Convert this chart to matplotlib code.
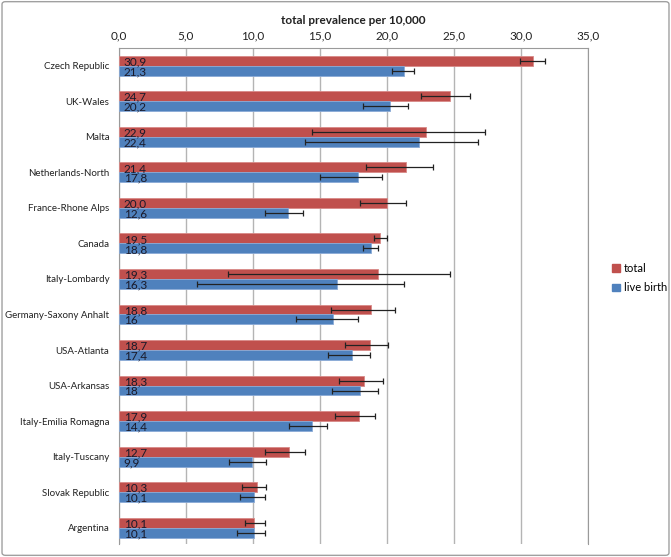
import numpy as np
import matplotlib
matplotlib.use("Agg")
import matplotlib.pyplot as plt
import matplotlib.patches as mpatches
from matplotlib.ticker import FuncFormatter

plt.rcParams["font.family"] = ["Lato", "DejaVu Sans"]

categories = ["Czech Republic", "UK-Wales", "Malta", "Netherlands-North",
              "France-Rhone Alps", "Canada", "Italy-Lombardy",
              "Germany-Saxony Anhalt", "USA-Atlanta", "USA-Arkansas",
              "Italy-Emilia Romagna", "Italy-Tuscany", "Slovak Republic",
              "Argentina"]
total = [30.9, 24.7, 22.9, 21.4, 20.0, 19.5, 19.3, 18.8, 18.7, 18.3, 17.9, 12.7, 10.3, 10.1]
live = [21.3, 20.2, 22.4, 17.8, 12.6, 18.8, 16.3, 16.0, 17.4, 18.0, 14.4, 9.9, 10.1, 10.1]
total_labels = ["30,9", "24,7", "22,9", "21,4", "20,0", "19,5", "19,3", "18,8",
                "18,7", "18,3", "17,9", "12,7", "10,3", "10,1"]
live_labels = ["21,3", "20,2", "22,4", "17,8", "12,6", "18,8", "16,3", "16",
               "17,4", "18", "14,4", "9,9", "10,1", "10,1"]
# 95% confidence limits
total_lo = [29.9, 22.5, 14.4, 18.4, 18.0, 19.0, 8.1, 15.8, 16.9, 16.4, 16.1, 10.9, 9.2, 9.4]
total_hi = [31.8, 26.2, 27.3, 23.4, 21.4, 20.0, 24.7, 20.6, 20.1, 19.7, 19.1, 13.9, 11.0, 10.9]
live_lo = [20.4, 18.2, 13.9, 15.0, 10.9, 18.2, 5.8, 13.2, 15.6, 15.9, 12.7, 8.2, 9.0, 8.8]
live_hi = [22.0, 21.6, 26.8, 19.6, 13.7, 19.3, 21.3, 17.8, 18.7, 19.3, 15.5, 11.0, 10.9, 10.9]
x_ticks = [0, 5, 10, 15, 20, 25, 30, 35]

RED = "#C0504D"
BLUE = "#4F81BD"

fig = plt.figure(figsize=(6.71, 5.57), dpi=100)
ax = fig.add_axes([119 / 671, 1 - 544 / 557, (588 - 119) / 671, (544 - 48) / 557])

y = np.arange(len(categories))
h = 0.28
t = np.array(total)
l = np.array(live)
t_err = [t - np.array(total_lo), np.array(total_hi) - t]
l_err = [l - np.array(live_lo), np.array(live_hi) - l]

ax.barh(y - h / 2, t, height=h, color=RED, edgecolor="#d88a88", linewidth=0.6, zorder=3, label="total")
ax.barh(y + h / 2, l, height=h, color=BLUE, edgecolor="#8aaad6", linewidth=0.6, zorder=3, label="live birth")
ekw = dict(fmt="none", ecolor="#222222", elinewidth=0.9, capsize=2.5, capthick=0.9, zorder=4)
ax.errorbar(t, y - h / 2, xerr=t_err, **ekw)
ax.errorbar(l, y + h / 2, xerr=l_err, **ekw)

for i in range(len(categories)):
    ax.text(0.35, y[i] - h / 2 + 0.03, total_labels[i], va="center", ha="left",
            fontsize=8.5, color="#1a1a2a", zorder=5)
    ax.text(0.35, y[i] + h / 2 + 0.03, live_labels[i], va="center", ha="left",
            fontsize=8.5, color="#1a1a2a", zorder=5)

ax.set_xlim(0, 35)
ax.set_ylim(13.46, -0.5)
ax.set_xticks(x_ticks)
ax.xaxis.set_major_formatter(FuncFormatter(lambda v, p: f"{v:.1f}".replace(".", ",")))
ax.xaxis.tick_top()
ax.tick_params(axis="x", length=0, pad=5, labelsize=8.5, colors="#222222")
ax.set_yticks(y)
ax.set_yticklabels(categories)
ax.tick_params(axis="y", length=0, pad=7, labelsize=7, colors="#222222")
ax.grid(axis="x", color="#b4b4b4", linewidth=1, zorder=0)
ax.set_axisbelow(True)
for s in ["top", "left", "right"]:
    ax.spines[s].set_color("#9a9a9a")
ax.spines["bottom"].set_visible(False)

fig.text(353 / 671, 1 - 20 / 557, "total prevalence per 10,000", ha="center", va="center",
         fontsize=8.5, fontweight="bold", color="#222222")

handles = [mpatches.Patch(color=RED, label="total"), mpatches.Patch(color=BLUE, label="live birth")]
fig.legend(handles=handles, loc="center left", bbox_to_anchor=(612 / 671, 1 - 278 / 557),
           frameon=False, fontsize=8, handlelength=0.7, handleheight=0.7, handletextpad=0.35,
           labelspacing=0.8, borderpad=0, borderaxespad=0)

fig.patches.append(mpatches.FancyBboxPatch((0.003, 0.003), 0.994, 0.994,
                                           boxstyle="round,pad=0,rounding_size=0.005",
                                           transform=fig.transFigure, fill=False,
                                           edgecolor="#a0a0a0", linewidth=1))

fig.savefig("out.png", dpi=100)
